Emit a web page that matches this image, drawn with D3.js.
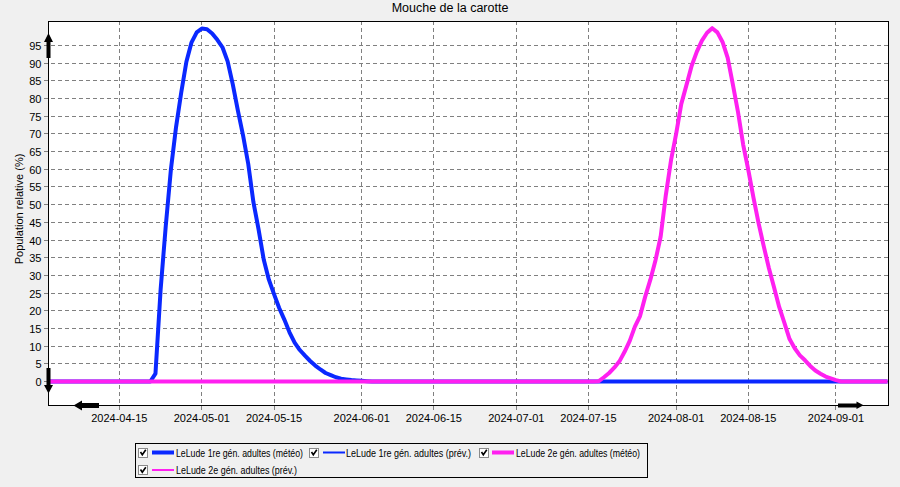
<!DOCTYPE html>
<html>
<head>
<meta charset="utf-8">
<script src="https://cdn.jsdelivr.net/npm/d3@7"></script>
<style>
html,body{margin:0;padding:0;background:#f0f0f0;}
svg{display:block;font-family:"Liberation Sans",Arial,sans-serif;}
</style>
</head>
<body>
<svg id="chart" width="900" height="487"></svg>
<script>
// ---------- DATA ----------
const chartTitle = "Mouche de la carotte";
const yAxisTitle = "Population relative (%)";
const xDomain = ["2024-04-01", "2024-09-11"];
const xTickLabels = ["2024-04-15","2024-05-01","2024-05-15","2024-06-01","2024-06-15",
                     "2024-07-01","2024-07-15","2024-08-01","2024-08-15","2024-09-01"];
const yTickValues = [0,5,10,15,20,25,30,35,40,45,50,55,60,65,70,75,80,85,90,95];
const seriesNames = ["LeLude 1re gén. adultes (météo)","LeLude 1re gén. adultes (prév.)",
                     "LeLude 2e gén. adultes (météo)","LeLude 2e gén. adultes (prév.)"];
const seriesColors = ["#0a28ff","#0a28ff","#ff20f0","#ff20f0"];

// 1re génération (météo)
const gen1Dates = ["2024-04-01",
  "2024-04-21","2024-04-22","2024-04-23","2024-04-24","2024-04-25","2024-04-26","2024-04-27",
  "2024-04-28","2024-04-29","2024-04-30","2024-05-01","2024-05-02","2024-05-03","2024-05-04",
  "2024-05-05","2024-05-06","2024-05-07","2024-05-08","2024-05-09","2024-05-10","2024-05-11",
  "2024-05-12","2024-05-13","2024-05-14","2024-05-15","2024-05-16","2024-05-17","2024-05-18",
  "2024-05-19","2024-05-20","2024-05-21","2024-05-22","2024-05-23","2024-05-24","2024-05-25",
  "2024-05-26","2024-05-27","2024-05-28","2024-05-29","2024-05-30","2024-05-31","2024-06-01",
  "2024-06-02","2024-06-03","2024-09-11"];
const gen1Values = [0,
  0,2.2,26,44,60,72,81.7,
  90.4,95.9,98.7,99.8,99.6,98.4,96.6,
  94.5,90.5,84,76.5,69.5,61.5,50.7,
  43,34.5,28.8,24.7,20.8,17.5,13.9,
  11,8.9,7.3,5.8,4.5,3.4,2.4,
  1.8,1.2,0.8,0.6,0.4,0.3,0.2,
  0.1,0,0];

// 2e génération (météo)
const gen2Dates = ["2024-04-01",
  "2024-07-16","2024-07-17","2024-07-18","2024-07-19","2024-07-20","2024-07-21","2024-07-22",
  "2024-07-23","2024-07-24","2024-07-25","2024-07-26","2024-07-27","2024-07-28","2024-07-29",
  "2024-07-30","2024-07-31","2024-08-01","2024-08-02","2024-08-03","2024-08-04","2024-08-05",
  "2024-08-06","2024-08-07","2024-08-08","2024-08-09","2024-08-10","2024-08-11","2024-08-12",
  "2024-08-13","2024-08-14","2024-08-15","2024-08-16","2024-08-17","2024-08-18","2024-08-19",
  "2024-08-20","2024-08-21","2024-08-22","2024-08-23","2024-08-24","2024-08-25","2024-08-26",
  "2024-08-27","2024-08-28","2024-08-29","2024-08-30","2024-08-31","2024-09-01","2024-09-02",
  "2024-09-11"];
const gen2Values = [0,
  0,0.1,1.2,2.4,3.9,5.7,8.4,
  11.5,15.5,18.5,24,28.8,34.3,41,
  52.7,62.5,70,78.5,83.8,89.2,93.2,
  96.4,98.6,99.9,98.7,96,91.5,84,
  76.2,67,59.8,52,44.7,38.2,32,
  26.6,21,16.6,12,9.4,7.4,6,
  4.4,3.1,2.2,1.4,0.9,0.4,0,
  0];

// prévisions (not visible in the picture)
const gen1PrevDates = [], gen1PrevValues = [];
const gen2PrevDates = [], gen2PrevValues = [];

// ---------- LAYOUT ----------
const parse = d3.utcParse("%Y-%m-%d");
const plot = {left: 48, top: 21, right: 888, bottom: 405};
const svg = d3.select("#chart");

const x = d3.scaleUtc().domain(xDomain.map(parse)).range([47.2, 887.5]);
const y = d3.scaleLinear().domain([0, 95]).range([381.5, 45.5]);
const snap = v => Math.round(v - 0.5) + 0.5;

svg.append("rect").attr("width", 900).attr("height", 487).attr("fill", "#f0f0f0");

// title
svg.append("text").attr("x", 450).attr("y", 12).attr("text-anchor", "middle")
  .attr("font-size", 12.5).attr("fill", "#000").text(chartTitle);

// plot background
svg.append("rect").attr("x", plot.left).attr("y", plot.top)
  .attr("width", plot.right - plot.left).attr("height", plot.bottom - plot.top)
  .attr("fill", "#fff");

// grid
const grid = svg.append("g").attr("stroke", "#808080").attr("stroke-width", 1)
  .attr("stroke-dasharray", "4,3").attr("shape-rendering", "crispEdges");
grid.selectAll("line.h").data(yTickValues).join("line").attr("class", "h")
  .attr("x1", 44).attr("x2", plot.right)
  .attr("y1", d => snap(y(d))).attr("y2", d => snap(y(d)));
grid.selectAll("line.v").data(xTickLabels).join("line").attr("class", "v")
  .attr("x1", d => snap(x(parse(d)))).attr("x2", d => snap(x(parse(d))))
  .attr("y1", plot.top).attr("y2", plot.bottom + 6);

// y tick labels
svg.append("g").selectAll("text").data(yTickValues).join("text")
  .attr("x", 41.5).attr("y", d => snap(y(d)) + 4)
  .attr("text-anchor", "end").attr("font-size", 11).attr("fill", "#000")
  .text(d => d);

// x tick labels
svg.append("g").selectAll("text").data(xTickLabels).join("text")
  .attr("x", d => x(parse(d))).attr("y", 422)
  .attr("text-anchor", "middle").attr("font-size", 11).attr("fill", "#000")
  .text(d => d);

// y axis title
svg.append("text").attr("transform", "translate(23,209) rotate(-90)")
  .attr("text-anchor", "middle").attr("font-size", 11).attr("fill", "#000")
  .text(yAxisTitle);

// series
svg.append("clipPath").attr("id", "clip").append("rect")
  .attr("x", plot.left).attr("y", plot.top)
  .attr("width", plot.right - plot.left).attr("height", plot.bottom - plot.top);

const line = d3.line().x(d => x(d[0])).y(d => y(d[1]));
const zipSeries = (ds, vs) => ds.map((d, i) => [parse(d), vs[i]]);
const seriesList = [
  {data: zipSeries(gen1Dates, gen1Values), color: seriesColors[0], w: 4},
  {data: zipSeries(gen1PrevDates, gen1PrevValues), color: seriesColors[1], w: 2},
  {data: zipSeries(gen2Dates, gen2Values), color: seriesColors[2], w: 4},
  {data: zipSeries(gen2PrevDates, gen2PrevValues), color: seriesColors[3], w: 2}
];
const sg = svg.append("g").attr("clip-path", "url(#clip)");
sg.selectAll("path").data(seriesList.filter(s => s.data.length)).join("path")
  .attr("d", s => line(s.data)).attr("fill", "none")
  .attr("stroke", s => s.color).attr("stroke-width", s => s.w)
  .attr("stroke-linejoin", "round");

// plot border
svg.append("rect").attr("x", plot.left + 0.5).attr("y", plot.top + 0.5)
  .attr("width", plot.right - plot.left).attr("height", plot.bottom - plot.top)
  .attr("fill", "none").attr("stroke", "#000").attr("stroke-width", 1)
  .attr("shape-rendering", "crispEdges");

// scroll arrows
const ar = svg.append("g").attr("fill", "#000");
ar.append("path").attr("d", "M46.5,58 L46.5,42 L44,42 L48.5,33 L53,42 L50.5,42 L50.5,58 Z");
ar.append("path").attr("d", "M46.5,368 L46.5,385 L44,385 L48.5,393.5 L53,385 L50.5,385 L50.5,368 Z");
ar.append("path").attr("d", "M99,403 L82,403 L82,400.5 L73.5,405.5 L82,410.5 L82,408 L99,408 Z");
ar.append("path").attr("d", "M838,403.5 L856.5,403.5 L856.5,401.5 L863.5,405.3 L856.5,409 L856.5,407.5 L838,407.5 Z");

// legend
const legendItems = [
  {name: seriesNames[0], color: seriesColors[0], w: 4, cx: 138, lx: 152, tx: 176, tw: 127, row: 0},
  {name: seriesNames[1], color: seriesColors[1], w: 2, cx: 309, lx: 323, tx: 346, tw: 125, row: 0},
  {name: seriesNames[2], color: seriesColors[2], w: 4, cx: 479, lx: 492, tx: 516, tw: 124, row: 0},
  {name: seriesNames[3], color: seriesColors[3], w: 2, cx: 138, lx: 152, tx: 176, tw: 121, row: 1}
];
svg.append("rect").attr("x", 135.5).attr("y", 443.5).attr("width", 512).attr("height", 34)
  .attr("fill", "#f0f0f0").attr("stroke", "#000").attr("shape-rendering", "crispEdges");
const rowY = [452.5, 470];
const li = svg.append("g").selectAll("g").data(legendItems).join("g");
li.append("rect").attr("x", d => d.cx + 0.5).attr("y", d => rowY[d.row] - 4.5)
  .attr("width", 9).attr("height", 9).attr("fill", "#fff").attr("stroke", "#8a8a8a")
  .attr("shape-rendering", "crispEdges");
li.append("path").attr("d", d => {
    const cx = d.cx, cy = rowY[d.row];
    return `M${cx + 2.5},${cy - 0.5} L${cx + 4.3},${cy + 2.3} L${cx + 7.8},${cy - 2.8}`;
  }).attr("fill", "none").attr("stroke", "#000").attr("stroke-width", 1.6);
li.append("line").attr("x1", d => d.lx).attr("x2", d => d.lx + 22)
  .attr("y1", d => rowY[d.row]).attr("y2", d => rowY[d.row])
  .attr("stroke", d => d.color).attr("stroke-width", d => d.w);
li.append("text").attr("x", d => d.tx).attr("y", d => rowY[d.row] + 4)
  .attr("font-size", 10.5).attr("fill", "#000")
  .attr("textLength", d => d.tw).attr("lengthAdjust", "spacingAndGlyphs")
  .text(d => d.name);
</script>
</body>
</html>
